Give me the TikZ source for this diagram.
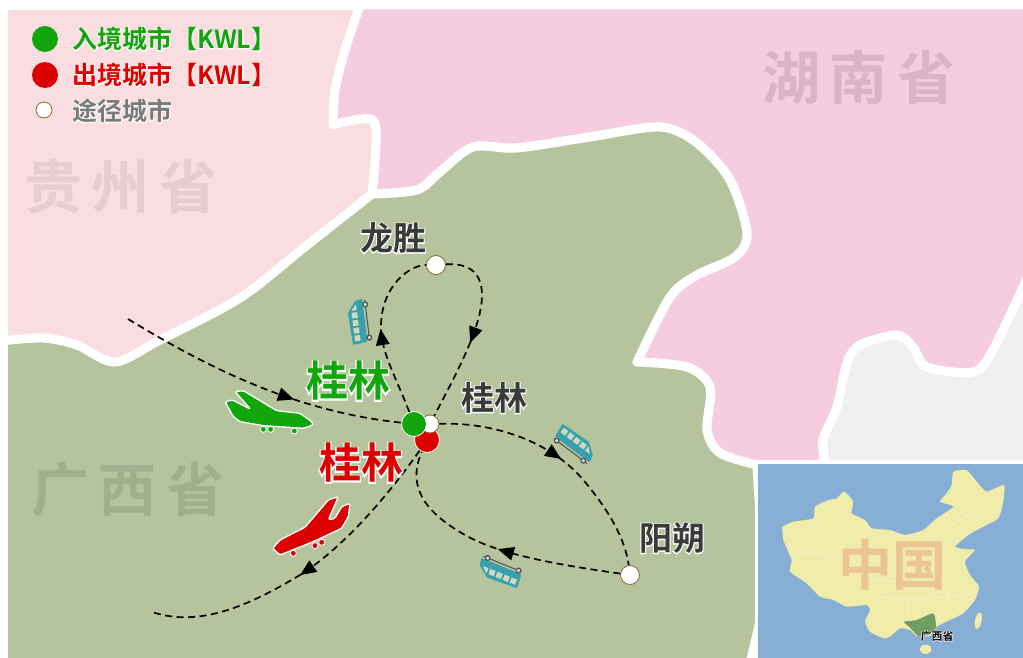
\documentclass[tikz,border=0pt]{standalone}
\usepackage{fontspec}
\usetikzlibrary{decorations.markings,arrows.meta}
\setmainfont{Noto Sans CJK SC}[BoldFont={* Bold}]
\newfontfamily\cjkb{Noto Sans CJK SC Bold}
\newfontfamily\cjkhalo{Noto Sans CJK SC Bold}[FakeBold=6]
\newfontfamily\cjkhalosm{Noto Sans CJK SC Bold}[FakeBold=9]
\definecolor{gzpink}{HTML}{FADDE1}
\definecolor{hnpink}{HTML}{F6CCE0}
\definecolor{gxgreen}{HTML}{B6C49E}
\definecolor{pale}{HTML}{F0F0F1}
\definecolor{sea}{HTML}{87AFD6}
\definecolor{land}{HTML}{F0ECAA}
\definecolor{gxinset}{HTML}{6E9E62}
\definecolor{gzmark}{HTML}{E5CDD2}
\definecolor{hnmark}{HTML}{D9B5C5}
\definecolor{gxmark}{HTML}{A0AF8E}
\definecolor{cnmark}{HTML}{EBC594}
\definecolor{ingreen}{HTML}{12A50C}
\definecolor{outred}{HTML}{DC0000}
\definecolor{busteal}{HTML}{36A0AC}
\definecolor{dark}{HTML}{3A3A3A}
\definecolor{midgray}{HTML}{7A7A7A}
\definecolor{ringbrown}{HTML}{8A6A30}
\newcommand{\halotext}[2]{{\rlap{\cjkhalo\color{white}#2}\cjkb\color{#1}#2}}
\newcommand{\busicon}[3]{%
 \begin{scope}[shift={(#1,#2)},rotate=#3,scale=0.3333]
  \fill[busteal,rounded corners=0.8pt] (-62,18) -- (-66,-26) -- (30,-30) -- (64,-4) -- (68,18) -- cycle;
  \foreach \wx in {-56,-33,-10,13}{\fill[gxgreen!65!white] (\wx,-19) rectangle +(17,17);}
  \fill[gxgreen!65!white] (36,-19) -- (54,-3) -- (36,-2) -- cycle;
  \draw[dark!85,line width=1.1pt] (-60,25) -- (64,25);
  \draw[dark!85,line width=1.3pt,fill=gxgreen!50!white] (-50,25) circle (7);
  \draw[dark!85,line width=1.3pt,fill=gxgreen!50!white] (50,25) circle (7);
 \end{scope}}
\tikzset{
 border/.style={draw=white,line width=9pt,line join=round},
 watermark/.style={font=\cjkb,inner sep=0pt},
 stop/.style={circle,draw=ringbrown,fill=white,line width=0.8pt,inner sep=0pt,minimum size=17pt},
 routeline/.style={black,line width=1.7pt,dash pattern=on 7pt off 4.5pt},
 legendtext/.style={anchor=west,inner sep=0pt,font=\fontsize{25}{25}\selectfont},
 tip/.style n args={1}{postaction={decorate,decoration={markings,mark=at position #1 with {\fill[black,solid] (-8,-7) -- (8,0) -- (-8,7) -- cycle;}}}},
 planeicon/.style={draw=white,line width=1.3pt,line join=round,rounded corners=1.5pt},
 planewheel/.style={draw=white,line width=0.8pt},
 provline/.style={draw=white,opacity=0.45,line width=0.6pt},
}
\begin{document}
\begin{tikzpicture}[x=1pt,y=-1pt]
\useasboundingbox (0,0) rectangle (1023,658);
\fill[white] (0,0) rectangle (1023,658);
\begin{scope}
 \clip (8,10) rectangle (1023,658);
 \fill[gzpink] (8,10) rectangle (1023,658);
 \fill[pale] (700,280) rectangle (1023,658);
 % Hunan
 \draw[border,fill=hnpink] plot[smooth,tension=0.5] coordinates {(360,5) (345,50) (335,90) (333,125)}
  -- plot[smooth,tension=0.5] coordinates {(333,125) (373,120) (375,160) (372,194)}
  -- plot[smooth,tension=0.5] coordinates {(372,194) (417,190) (440,172) (473,147) (517,148) (590,137) (660,127) (697,143) (730,180) (747,233) (735,257) (697,275) (670,297) (637,362)}
  -- plot[smooth,tension=0.5] coordinates {(637,362) (687,367) (710,387) (707,430) (720,453) (757,465) (826,470)}
  -- plot[smooth,tension=0.5] coordinates {(826,470) (823,440) (837,407) (847,363) (860,345) (897,335) (913,347) (927,367) (973,372) (993,350) (1030,272)}
  -- (1030,5) -- cycle;
 % Guangxi
 \draw[border,fill=gxgreen] plot[smooth,tension=0.5] coordinates {(0,341) (43,338) (77,345) (115,362) (160,340) (240,298) (306,246) (372,194)}
  -- plot[smooth,tension=0.5] coordinates {(372,194) (417,190) (440,172) (473,147) (517,148) (590,137) (660,127) (697,143) (730,180) (747,233) (735,257) (697,275) (670,297) (637,362)}
  -- plot[smooth,tension=0.5] coordinates {(637,362) (687,367) (710,387) (707,430) (720,453) (757,465)}
  -- (765,600) -- (750,664) -- (0,664) -- cycle;
\end{scope}
% watermarks
\node[watermark,gzmark,font=\cjkb\fontsize{58}{58}\selectfont] (gzname) at (121,187) {贵\hspace{10pt}州\hspace{10pt}省};
\node[watermark,hnmark,font=\cjkb\fontsize{58}{58}\selectfont] (hnname) at (859,78) {湖\hspace{10pt}南\hspace{10pt}省};
\node[watermark,gxmark,font=\cjkb\fontsize{58}{58}\selectfont] (gxname) at (128,490) {广\hspace{10pt}西\hspace{10pt}省};
% inset
\fill[white] (755,460) rectangle (1023,658);
\fill[sea] (758,464) rectangle (1023,658);
\begin{scope}[shift={(750,450)},scale=0.3333]
 \fill[land] plot[smooth,tension=0.3] coordinates {(97,230) (130,215) (190,205) (195,170) (235,150) (260,145) (283,125) (310,155) (305,190) (345,210) (365,235) (420,240) (465,255) (520,240) (560,205) (610,170) (570,155) (590,130) (605,105) (610,65) (650,60) (680,95) (710,125) (762,105) (760,155) (745,205) (700,230) (655,255) (615,290) (650,298) (675,300) (645,335) (660,375) (687,410) (675,450) (640,490) (600,510) (560,530) (540,558) (500,558) (480,540) (450,535) (420,560) (400,565) (360,545) (345,515) (360,480) (350,465) (290,470) (250,450) (210,440) (170,400) (120,365) (125,330) (100,270) (97,230)};
 \fill[land] (527,598) ellipse (18 and 14);
 \fill[land,rotate around={-12:(685,512)}] (685,512) ellipse (10 and 25);
 \draw[provline] (130,310) -- (270,312) -- (345,385) -- (480,400) -- (470,510);
 \draw[provline] (570,240) -- (520,330) -- (600,420) -- (560,520);
 \draw[provline] (380,440) -- (470,450) -- (600,440) -- (670,430);
 \draw[provline] (600,230) -- (690,170);
 \fill[gxinset] plot[smooth,tension=0.3] coordinates {(460,515) (500,510) (550,490) (558,530) (540,553) (505,558) (482,535) (460,515)};
\end{scope}
\node[watermark,cnmark,font=\cjkb\fontsize{54}{54}\selectfont] (cnname) at (892,565) {中国};
\node[inner sep=0pt,font=\fontsize{11}{11}\selectfont] (gxsmall) at (937,636) {\rlap{\cjkhalosm\color{white}广西省}\cjkb\color{black}广西省};
% legend
\node[circle,fill=ingreen,inner sep=0pt,minimum size=26pt] (lgin) at (45,39) {};
\node[circle,fill=outred,inner sep=0pt,minimum size=26pt] (lgout) at (45,75) {};
\node[stop,minimum size=16pt] (lgvia) at (44,110) {};
\node[legendtext] (lgintext) at (72,39) {\halotext{ingreen}{入境城市【KWL】}};
\node[legendtext] (lgouttext) at (72,75) {\halotext{outred}{出境城市【KWL】}};
\node[legendtext] (lgviatext) at (72,111) {\halotext{midgray}{途径城市}};
% city nodes
\coordinate (inbound) at (128,319);
\coordinate (outbound) at (152,612);
\node[circle,fill=outred,draw=white,line width=0.8pt,inner sep=0pt,minimum size=25pt] (red) at (427,440) {};
\node[stop,minimum size=18pt] (guilin) at (430,424) {};
\node[circle,fill=ingreen,draw=white,line width=0.8pt,inner sep=0pt,minimum size=25pt] (green) at (414,424) {};
\node[stop,minimum size=19pt] (longsheng) at (436,265) {};
\node[stop,minimum size=19pt] (yangshuo) at (630,575) {};
% routes
\draw[routeline,tip=0.6] (inbound) .. controls (215,372) and (300,412) .. (green);
\draw[routeline,tip=0.5] (red) .. controls (385,500) and (340,550) .. (300,575) .. controls (250,605) and (200,628) .. (outbound);
\draw[routeline,tip=0.52] (longsheng) .. controls (480,262) and (488,285) .. (478,320) .. controls (470,350) and (445,395) .. (guilin);
\draw[routeline,tip=0.46] (green) .. controls (395,375) and (380,350) .. (381,325) .. controls (382,285) and (410,265) .. (longsheng);
\draw[routeline,tip=0.47] (guilin) .. controls (500,422) and (555,445) .. (585,482) .. controls (615,518) and (626,545) .. (yangshuo);
\draw[routeline,tip=0.44] (yangshuo) .. controls (560,565) and (500,555) .. (465,535) .. controls (430,515) and (405,490) .. (red);
% city labels
\node[inner sep=0pt,font=\fontsize{33}{33}\selectfont] (lslabel) at (393,238) {\halotext{dark}{龙胜}};
\node[inner sep=0pt,font=\fontsize{33}{33}\selectfont] (gllabel) at (494,398) {\halotext{dark}{桂林}};
\node[inner sep=0pt,font=\fontsize{33}{33}\selectfont] (yslabel) at (672,538) {\halotext{dark}{阳朔}};
\node[inner sep=0pt,font=\fontsize{42}{42}\selectfont] (inlabel) at (348,381) {\halotext{ingreen}{桂林}};
\node[inner sep=0pt,font=\fontsize{42}{42}\selectfont] (outlabel) at (361,463) {\halotext{outred}{桂林}};
% planes
\begin{scope}[shift={(200,280)},scale=0.3333]
 \draw[planewheel,fill=ingreen] (190,448) circle (9) (212,448) circle (9) (283,453) circle (9);
 \draw[planeicon,fill=ingreen] (75,365) -- (97,360) -- (152,388) -- (105,335) -- (130,332) -- (230,392) -- (300,400) -- (335,425) -- (340,435) -- (310,445) -- (190,437) -- (120,425) -- (100,410) -- cycle;
 \draw[planewheel,fill=outred] (280,820) circle (9) (345,797) circle (9) (365,787) circle (9);
 \draw[planeicon,fill=outred] (218,805) -- (240,780) -- (315,742) -- (385,660) -- (415,650) -- (385,720) -- (405,715) -- (425,680) -- (450,670) -- (445,710) -- (425,745) -- (340,785) -- (240,825) -- cycle;
\end{scope}
% buses
\busicon{359}{322}{97}
\busicon{575}{444}{-37}
\busicon{500}{572}{158}
\end{tikzpicture}
\end{document}
